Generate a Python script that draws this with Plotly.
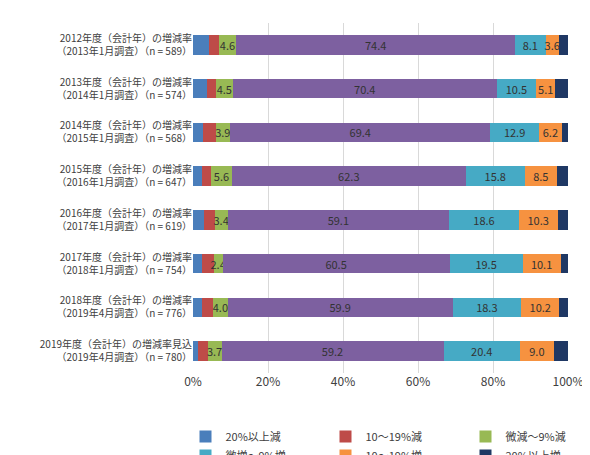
import plotly.graph_objects as go

categories = [
    '2012年度（会計年）の増減率<br>（2013年1月調査）（n = 589）',
    '2013年度（会計年）の増減率<br>（2014年1月調査）（n = 574）',
    '2014年度（会計年）の増減率<br>（2015年1月調査）（n = 568）',
    '2015年度（会計年）の増減率<br>（2016年1月調査）（n = 647）',
    '2016年度（会計年）の増減率<br>（2017年1月調査）（n = 619）',
    '2017年度（会計年）の増減率<br>（2018年1月調査）（n = 754）',
    '2018年度（会計年）の増減率<br>（2019年4月調査）（n = 776）',
    '2019年度（会計年）の増減率見込<br>（2019年4月調査）（n = 780）',
]
series_names = ['20%以上減', '10～19%減', '微減～9%減', '増減なし', '微増～9%増', '10～19%増', '20%以上増']
dec20 = [4.3, 3.7, 2.6, 2.4, 2.9, 2.4, 2.4, 1.3]
dec10 = [2.6, 2.4, 3.4, 2.4, 2.9, 3.1, 2.9, 2.6]
dec_small = [4.6, 4.5, 3.9, 5.6, 3.4, 2.4, 4.0, 3.7]
flat = [74.4, 70.4, 69.4, 62.3, 59.1, 60.5, 59.9, 59.2]
inc_small = [8.1, 10.5, 12.9, 15.8, 18.6, 19.5, 18.3, 20.4]
inc10 = [3.6, 5.1, 6.2, 8.5, 10.3, 10.1, 10.2, 9.0]
inc20 = [2.4, 3.4, 1.6, 3.0, 2.8, 2.0, 2.3, 3.8]

values = [dec20, dec10, dec_small, flat, inc_small, inc10, inc20]
colors = ['#4a7ebb', '#be4b48', '#98b954', '#7d60a0', '#46aac5', '#f69240', '#1f3864']
show_text = [False, False, True, True, True, True, False]

fig = go.Figure()
for name, vals, col, st in zip(series_names, values, colors, show_text):
    fig.add_trace(go.Bar(
        y=categories, x=vals, name=name, orientation='h',
        marker=dict(color=col, line=dict(width=0)),
        text=[f'{v:.1f}' for v in vals] if st else None,
        textposition='inside', insidetextanchor='middle', textangle=0,
        textfont=dict(color='#333333', size=11), constraintext='none',
    ))

fig.update_layout(
    barmode='stack', width=590, height=455, bargap=0.55,
    plot_bgcolor='white', paper_bgcolor='white',
    font=dict(family='Noto Sans CJK JP', size=10, color='#404040'),
    margin=dict(l=185, r=30, t=15, b=90, autoexpand=False),
    uniformtext=dict(minsize=10, mode='show'),
    xaxis=dict(range=[0, 100], dtick=20, ticksuffix='%', showgrid=True,
               gridcolor='#d9d9d9', zeroline=False, tickfont=dict(size=12)),
    yaxis=dict(autorange='reversed', tickfont=dict(size=10), ticks=''),
    legend=dict(orientation='h', x=-0.02, xanchor='left', y=-0.14, yanchor='top',
                traceorder='normal', entrywidth=95, font=dict(size=11)),
)
fig.write_html('out.html')
